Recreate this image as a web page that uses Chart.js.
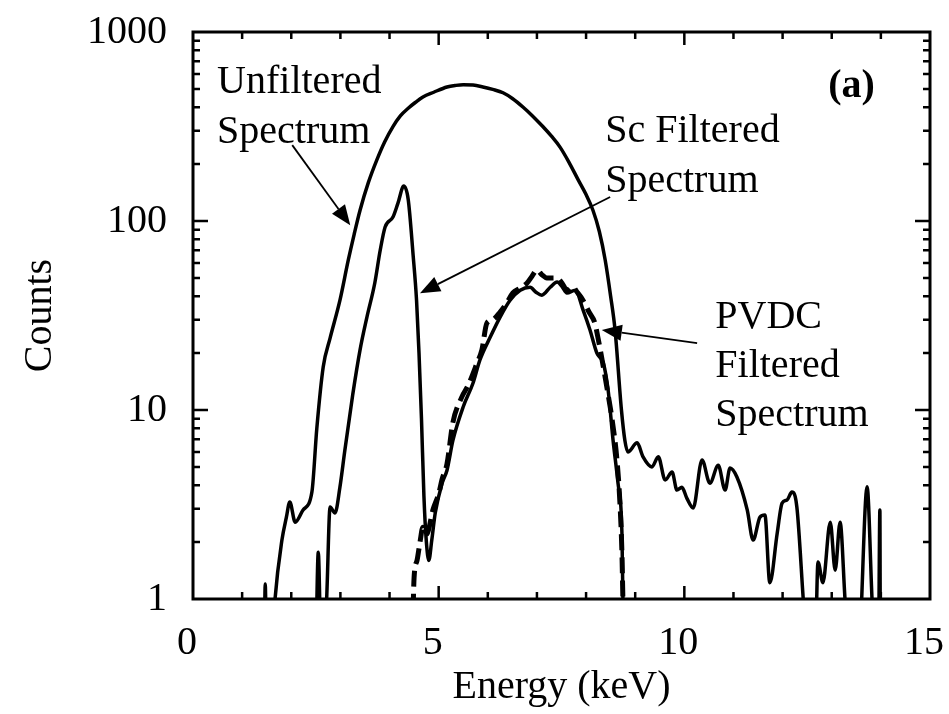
<!DOCTYPE html>
<html>
<head>
<meta charset="utf-8">
<script src="https://cdn.jsdelivr.net/npm/chart.js@4.4.1/dist/chart.umd.min.js"></script>
<style>
  html, body { margin: 0; padding: 0; background: #fff; }
  canvas { display: block; }
</style>
</head>
<body>
<canvas id="chart" width="949" height="714"></canvas>
<script>
// Data (energy in keV, counts on log axis; 0.5 = below the axis)
const unfEnergy = [1.45, 1.47, 1.5, 1.6, 1.67, 1.81, 1.9, 1.97, 2.08, 2.24, 2.42, 2.52, 2.65, 2.79, 2.99,
  3.16, 3.28, 3.4, 3.57, 3.74, 3.9, 4.07, 4.22, 4.38, 4.53, 4.68, 4.9, 5.17, 5.35, 5.5, 5.7, 5.9,
  6.1, 6.31, 6.5, 6.72, 6.9, 7.12, 7.3, 7.47, 7.65, 7.84, 8.0, 8.14, 8.27, 8.39, 8.5, 8.59, 8.72,
  8.79, 8.85, 9.04, 9.16, 9.34, 9.47, 9.61, 9.75, 9.85, 9.95, 10.05, 10.18, 10.36, 10.52, 10.69,
  10.83, 10.93, 11.07, 11.28, 11.4, 11.54, 11.64, 11.74, 11.89, 11.99, 12.09, 12.19, 12.29, 12.42,
  12.5, 12.66, 12.72, 12.82, 12.97, 13.07, 13.17, 13.27, 13.35, 13.54, 13.72, 13.82, 13.88, 13.95,
  13.98, 13.99, 14.05];
const unfCounts = [0.5, 1.2, 0.5, 0.5, 1.0, 2.05, 2.7, 3.26, 2.55, 2.96, 3.68, 8, 16.9, 24, 38,
  62, 85, 114, 160, 210, 262, 316, 360, 395, 425, 453, 480, 512, 522, 526, 524, 512,
  497, 477, 445, 400, 362, 316, 280, 246, 205, 165, 138, 114, 88, 62, 40, 26.5, 10,
  6.9, 6.0, 6.7, 5.65, 5.0, 5.65, 4.26, 4.7, 3.77, 3.9, 3.42, 3.03, 5.44, 4.1, 5.1,
  3.77, 4.93, 4.42, 2.96, 2.05, 2.71, 2.78, 1.22, 2.23, 3.22, 3.34, 3.68, 3.07, 1.0,
  0.5, 0.5, 1.57, 1.22, 2.55, 1.42, 2.55, 1.0, 0.5, 0.5, 3.92, 1.0, 0.5, 0.5,
  2.96, 0.5, 0.5];

const scEnergy = [2.5, 2.55, 2.6, 2.65, 2.72, 2.79, 2.89, 2.99, 3.09, 3.25, 3.4, 3.54, 3.7, 3.81, 3.91,
  4.07, 4.17, 4.29, 4.38, 4.48, 4.55, 4.6, 4.65, 4.7, 4.75, 4.8, 4.86, 4.93, 5.07, 5.17, 5.29, 5.5,
  5.7, 5.84, 6.05, 6.25, 6.45, 6.66, 6.86, 6.98, 7.1, 7.27, 7.41, 7.51, 7.61, 7.78, 7.94, 8.08,
  8.22, 8.28, 8.35, 8.45, 8.55, 8.65, 8.73, 8.75, 8.8];
const scCounts = [0.5, 1.77, 0.6, 0.5, 1.0, 3.07, 2.85, 3.9, 6.1, 12, 20.8, 31, 47, 70, 93,
  105, 124, 153, 130, 66, 38, 20, 9, 3.5, 2.0, 1.6, 2.05, 2.85, 4.1, 4.8, 6.9, 10.4,
  13.9, 18.4, 24.3, 31, 38, 43, 44.6, 42, 40.5, 44.6, 47.5, 45, 41.6, 43, 33.8, 26.5,
  20, 19, 17.8, 12.7, 6.9, 4.1, 2.23, 1.0, 0.5];

const pvdcEnergy = [4.46, 4.5, 4.56, 4.62, 4.68, 4.75, 4.89, 5.0, 5.07, 5.17, 5.29, 5.47, 5.6, 5.78, 5.88,
  5.98, 6.1, 6.25, 6.39, 6.51, 6.65, 6.8, 6.9, 7.0, 7.1, 7.2, 7.31, 7.41, 7.51, 7.61, 7.72, 7.82,
  7.94, 8.06, 8.18, 8.24, 8.35, 8.45, 8.53, 8.63, 8.69, 8.73, 8.75, 8.8];
const pvdcCounts = [0.5, 1.3, 1.6, 2.0, 2.4, 2.2, 3.0, 3.6, 4.3, 5.2, 8.6, 11.7, 13.5, 17.7, 20.8,
  28.8, 30, 33, 37, 41.6, 44, 47, 51, 55, 52, 50, 50, 50, 47, 43, 45, 42,
  38, 33, 28.8, 24.3, 17, 12, 8.9, 5.4, 3.2, 1.75, 1.0, 0.5];

const xTicks = [0, 5, 10, 15];
const yTicks = [1, 10, 100, 1000];

// annotation texts and arrows (data coordinates)
const labels = [
  { text: 'Unfiltered', x: 0.49, y: 475 },
  { text: 'Spectrum', x: 0.49, y: 259 },
  { text: 'Sc Filtered', x: 8.39, y: 262 },
  { text: 'Spectrum', x: 8.39, y: 142 },
  { text: 'PVDC', x: 10.63, y: 27 },
  { text: 'Filtered', x: 10.63, y: 14.9 },
  { text: 'Spectrum', x: 10.63, y: 8.2 },
  { text: '(a)', x: 12.93, y: 453, bold: true }
];
const arrows = [
  { from: [2.02, 252], to: [3.2, 95] },
  { from: [8.49, 134], to: [4.62, 41.5] },
  { from: [10.26, 22.6], to: [8.32, 26.5] }
];

const FONT = "'Liberation Serif', 'Times New Roman', serif";

const pairs = (xs, ys) => xs.map((x, i) => ({ x: x, y: ys[i] }));

// inward ticks on all four sides, frame, labels and arrows
const framePlugin = {
  id: 'frame',
  afterDraw(chart) {
    const { ctx, chartArea: a, scales: { x, y } } = chart;
    ctx.save();
    ctx.strokeStyle = '#000';
    ctx.lineWidth = 2.5;
    ctx.beginPath();
    for (let e = 1; e < 15; e++) {
      const px = x.getPixelForValue(e);
      const len = e % 5 === 0 ? 13 : 7;
      ctx.moveTo(px, a.bottom); ctx.lineTo(px, a.bottom - len);
      ctx.moveTo(px, a.top); ctx.lineTo(px, a.top + len);
    }
    for (let d = 1; d < 1000; d *= 10) {
      for (let m = 1; m < 10; m++) {
        const v = d * m;
        if (v === 1) continue;
        const py = y.getPixelForValue(v);
        const len = m === 1 ? 15 : 7;
        ctx.moveTo(a.left, py); ctx.lineTo(a.left + len, py);
        ctx.moveTo(a.right, py); ctx.lineTo(a.right - len, py);
      }
    }
    ctx.stroke();
    ctx.lineWidth = 3;
    ctx.strokeRect(a.left, a.top, a.right - a.left, a.bottom - a.top);

    ctx.fillStyle = '#000';
    ctx.textBaseline = 'alphabetic';
    ctx.textAlign = 'left';
    labels.forEach(l => {
      ctx.font = (l.bold ? 'bold ' : '') + '40px ' + FONT;
      ctx.fillText(l.text, x.getPixelForValue(l.x), y.getPixelForValue(l.y));
    });

    ctx.lineWidth = 1.8;
    arrows.forEach(ar => {
      const x0 = x.getPixelForValue(ar.from[0]), y0 = y.getPixelForValue(ar.from[1]);
      const x1 = x.getPixelForValue(ar.to[0]), y1 = y.getPixelForValue(ar.to[1]);
      const ang = Math.atan2(y1 - y0, x1 - x0);
      const hl = 20, hw = 8;
      const bx = x1 - hl * Math.cos(ang), by = y1 - hl * Math.sin(ang);
      ctx.beginPath();
      ctx.moveTo(x0, y0); ctx.lineTo(bx, by);
      ctx.stroke();
      ctx.beginPath();
      ctx.moveTo(x1, y1);
      ctx.lineTo(bx + hw * Math.sin(ang), by - hw * Math.cos(ang));
      ctx.lineTo(bx - hw * Math.sin(ang), by + hw * Math.cos(ang));
      ctx.closePath();
      ctx.fill();
    });
    ctx.restore();
  }
};

const lineStyle = {
  borderColor: '#000',
  borderWidth: 3.5,
  pointRadius: 0,
  fill: false,
  cubicInterpolationMode: 'monotone'
};

new Chart(document.getElementById('chart'), {
  type: 'line',
  data: {
    datasets: [
      { ...lineStyle, label: 'Unfiltered Spectrum', data: pairs(unfEnergy, unfCounts) },
      { ...lineStyle, label: 'Sc Filtered Spectrum', data: pairs(scEnergy, scCounts) },
      { ...lineStyle, label: 'PVDC Filtered Spectrum', data: pairs(pvdcEnergy, pvdcCounts),
        borderWidth: 5, borderDash: [16, 7] }
    ]
  },
  options: {
    responsive: false,
    animation: false,
    layout: { padding: { top: 32, right: 19, left: 0, bottom: 0 } },
    plugins: { legend: { display: false }, tooltip: { enabled: false } },
    scales: {
      x: {
        type: 'linear',
        min: 0, max: 15,
        grid: { display: false, drawTicks: false },
        border: { display: false },
        afterBuildTicks: s => { s.ticks = xTicks.map(v => ({ value: v })); },
        afterFit: s => { s.height = 115; s.paddingLeft = 0; s.paddingRight = 0; },
        ticks: { color: '#000', padding: 20, labelOffset: -6, font: { family: FONT, size: 40 },
          maxRotation: 0 },
        title: { display: true, text: 'Energy (keV)', color: '#000', padding: { bottom: 3 },
          font: { family: FONT, size: 40 } }
      },
      y: {
        type: 'logarithmic',
        min: 1, max: 1000,
        grid: { display: false, drawTicks: false },
        border: { display: false },
        afterBuildTicks: s => { s.ticks = yTicks.map(v => ({ value: v })); },
        afterFit: s => { s.width = 193; s.paddingTop = 0; s.paddingBottom = 0; },
        ticks: { color: '#000', padding: 26, font: { family: FONT, size: 40 },
          callback: v => String(v) },
        title: { display: true, text: 'Counts', color: '#000', padding: { top: 16 },
          font: { family: FONT, size: 40 } }
      }
    }
  },
  plugins: [framePlugin]
});
</script>
</body>
</html>
